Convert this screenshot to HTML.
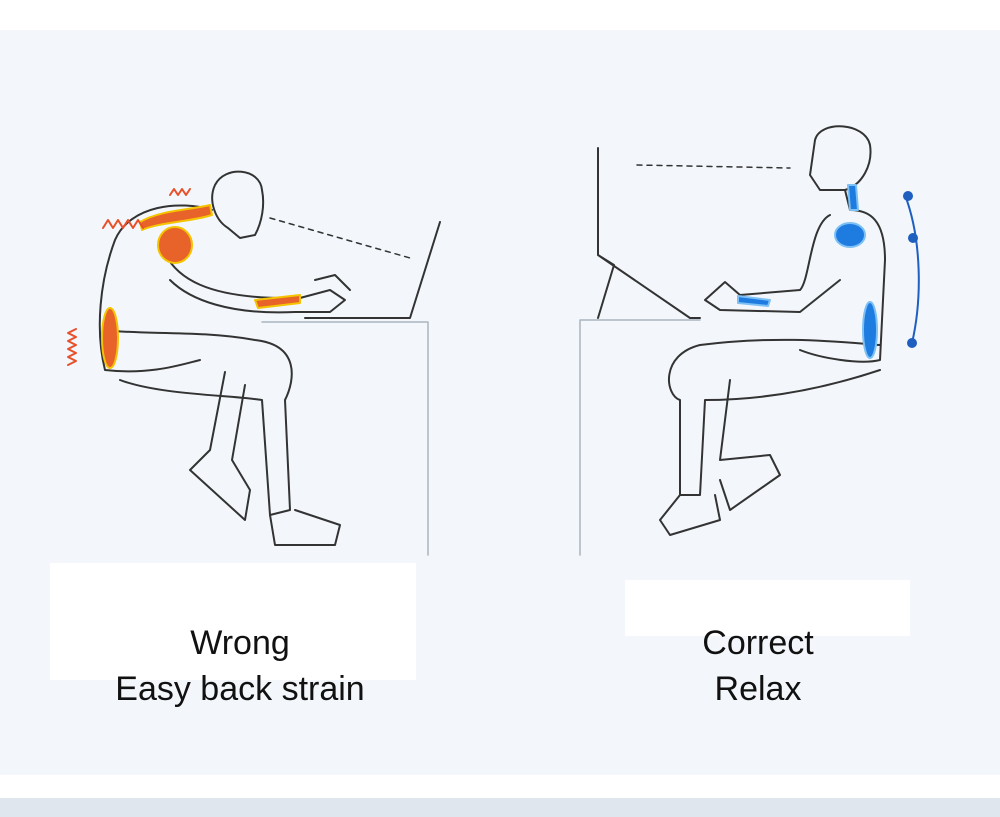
<!DOCTYPE html>
<html><head><meta charset="utf-8"><style>
html,body{margin:0;padding:0;}
body{width:1000px;height:817px;position:relative;background:#fff;overflow:hidden;font-family:"Liberation Sans",sans-serif;}
#bg{position:absolute;left:0;top:30px;width:1000px;height:745px;background:#f3f7fb;}
#bot{position:absolute;left:0;top:798px;width:1000px;height:19px;background:#dfe6ee;}
.box{position:absolute;background:#fff;}
.t{position:absolute;text-align:center;font-size:34px;color:#111;line-height:46px;}
svg{position:absolute;left:0;top:0;}
</style></head><body>
<div id="bg"></div><div id="bot"></div>
<div class="box" style="left:50px;top:563px;width:366px;height:117px"></div>
<div class="box" style="left:625px;top:580px;width:285px;height:56px"></div>
<div class="t" style="left:50px;top:620px;width:380px">Wrong<br>Easy back strain</div>
<div class="t" style="left:610px;top:620px;width:296px">Correct<br>Relax</div>
<svg width="1000" height="817" viewBox="0 0 1000 817" fill="none" stroke="#333" stroke-width="2" stroke-linecap="round" stroke-linejoin="round">
<!-- LEFT desk -->
<path d="M262 322 H428 V555" stroke="#aab4c0" stroke-width="1.5"/>
<path d="M305 318 H410 L440 222" />
<path d="M270 218 L410 258" stroke-dasharray="5 5" stroke-width="1.5"/>
<!-- left figure -->
<path d="M215 185 C225 165 260 168 262 190 C265 205 262 222 255 235 L240 238 L228 228 C215 220 208 200 215 185Z"/>
<path d="M212 210 C180 200 130 205 115 240 C100 280 95 330 105 370 C150 375 180 365 200 360"/>
<path d="M160 240 C170 280 210 300 300 298 L330 290 L345 300 L330 312 L295 312 C230 315 190 300 170 280"/>
<path d="M105 330 C140 335 200 330 255 340 C300 345 295 380 285 400 L290 510 L270 515 L262 400 C230 395 160 395 120 380"/>
<path d="M225 372 L210 450 L190 470 L245 520 L250 490 L232 460 L245 385"/>
<path d="M270 515 L275 545 L335 545 L340 525 L295 510"/>
<path d="M315 280 L335 275 L350 290"/>
<g fill="#e8632a" stroke="#f4c400" stroke-width="2">
<ellipse cx="175" cy="245" rx="17" ry="18"/>
<ellipse cx="110" cy="338" rx="8" ry="30"/>
<path d="M140 222 C160 210 190 210 210 205 L212 215 C190 222 160 222 142 230Z"/>
<path d="M255 300 L300 295 L300 303 L258 308Z"/>
</g>
<g stroke="#e8502a" stroke-width="2">
<path d="M103 228 l5 -8 l5 8 l5 -8 l5 8 l5 -8 l5 8 l5 -8 l5 8"/>
<path d="M170 195 l4 -6 l4 6 l4 -6 l4 6 l4 -6"/>
<path d="M68 365 l8 -4 l-8 -4 l8 -4 l-8 -4 l8 -4 l-8 -4 l8 -4 l-8 -4 l8 -4"/>
</g>
<!-- RIGHT desk -->
<path d="M580 320 H700 M580 320 V555" stroke="#aab4c0" stroke-width="1.5"/>
<path d="M598 148 V255 L690 318 L700 318 M598 255 L614 265 L598 318"/>
<path d="M637 165 L790 168" stroke-dasharray="5 5" stroke-width="1.5"/>
<!-- right figure -->
<path d="M815 140 C820 120 865 122 870 145 C873 165 862 185 845 190 L820 190 L810 175 Z"/>
<path d="M845 190 L850 210 C870 210 885 220 885 260 L880 360 C860 365 820 358 800 350"/>
<path d="M830 215 C810 225 810 280 800 290 L740 295 L725 282 L705 300 L720 310 L800 312 L840 280"/>
<path d="M880 345 C840 342 780 335 700 345 C660 355 665 395 680 400 L680 495 L700 495 L705 400 C760 400 820 390 880 370"/>
<path d="M730 380 L720 460 L770 455 L780 475 L730 510 L720 480"/>
<path d="M680 495 L660 520 L670 535 L720 520 L715 495"/>
<g fill="#1e7be0" stroke="#7cc0f5" stroke-width="2">
<ellipse cx="850" cy="235" rx="15" ry="12"/>
<ellipse cx="870" cy="330" rx="7" ry="28"/>
<path d="M848 185 L856 185 L858 210 L850 210Z"/>
<path d="M738 296 L770 300 L768 306 L738 303Z"/>
</g>
<path d="M905 195 C922 240 922 300 912 343" stroke="#1e5fbf"/>
<g fill="#1e5fbf" stroke="none">
<circle cx="908" cy="196" r="5"/><circle cx="913" cy="238" r="5"/><circle cx="912" cy="343" r="5"/>
</g>
</svg>
</body></html>
